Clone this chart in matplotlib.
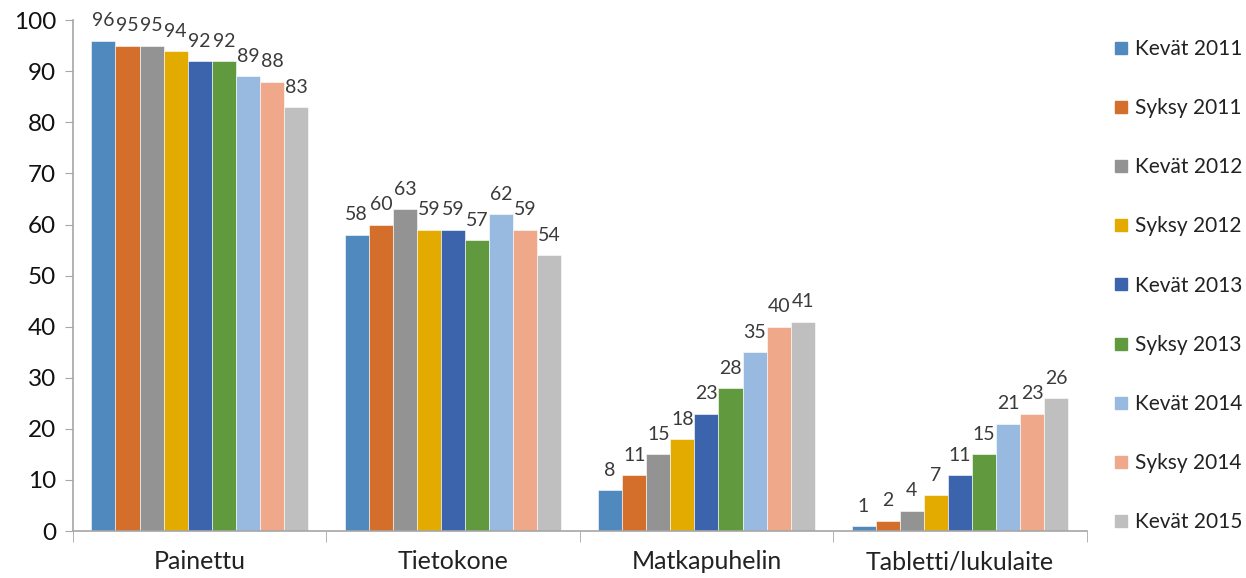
import numpy as np
import matplotlib.pyplot as plt
from matplotlib.lines import Line2D

categories = ["Painettu", "Tietokone", "Matkapuhelin", "Tabletti/lukulaite"]
series = ["Kevät 2011", "Syksy 2011", "Kevät 2012", "Syksy 2012", "Kevät 2013",
          "Syksy 2013", "Kevät 2014", "Syksy 2014", "Kevät 2015"]
values = [
    [96, 58, 8, 1],
    [95, 60, 11, 2],
    [95, 63, 15, 4],
    [94, 59, 18, 7],
    [92, 59, 23, 11],
    [92, 57, 28, 15],
    [89, 62, 35, 21],
    [88, 59, 40, 23],
    [83, 54, 41, 26],
]
colors = ["#4F89BD", "#D46E2B", "#939393", "#E3AA00", "#3B64AD",
          "#619A3E", "#98BAE0", "#F0A88A", "#BFBFBF"]

plt.rcParams['font.family'] = ['Lato', 'DejaVu Sans']

fig = plt.figure(figsize=(12.46, 5.78), dpi=100)
ax = fig.add_axes([0.0586, 0.0813, 0.8134, 0.8837])

x = np.arange(len(categories))
w = 0.095
n = len(series)
for i, (name, vals) in enumerate(zip(series, values)):
    pos = x + (i - (n - 1) / 2) * w
    bars = ax.bar(pos, vals, width=w, color=colors[i], label=name,
                  edgecolor="white", linewidth=0.4)
    for b, v in zip(bars, vals):
        ax.text(b.get_x() + b.get_width() / 2, v + 2.8, str(v), ha="center",
                va="baseline", fontsize=14, color="#3A3A3A")

ax.set_xlim(-0.5, len(categories) - 0.5)
ax.set_ylim(0, 100)
ax.set_yticks(range(0, 101, 10))
ax.tick_params(axis="y", labelsize=17.5, length=6, color="#A6A6A6", pad=6,
               labelcolor="#111111")
ax.set_xticks(x)
ax.set_xticklabels(categories, fontsize=18, color="#222222")
ax.tick_params(axis="x", length=0, pad=14)
ax.set_xticks(np.arange(len(categories) + 1) - 0.5, minor=True)
ax.tick_params(axis="x", which="minor", length=8, color="#A6A6A6")
for s in ["top", "right"]:
    ax.spines[s].set_visible(False)
for s in ["left", "bottom"]:
    ax.spines[s].set_color("#A6A6A6")
    ax.spines[s].set_linewidth(1.2)

handles = [Line2D([], [], marker="s", linestyle="", markersize=9,
                  markerfacecolor=c, markeredgecolor=c) for c in colors]
fig.legend(handles, series, loc="upper left", bbox_to_anchor=(0.888, 0.947),
           frameon=False, fontsize=15, labelspacing=1.88, handlelength=0.6,
           handletextpad=0.35, borderaxespad=0, labelcolor="#222222")

fig.savefig("out.png", dpi=100)
